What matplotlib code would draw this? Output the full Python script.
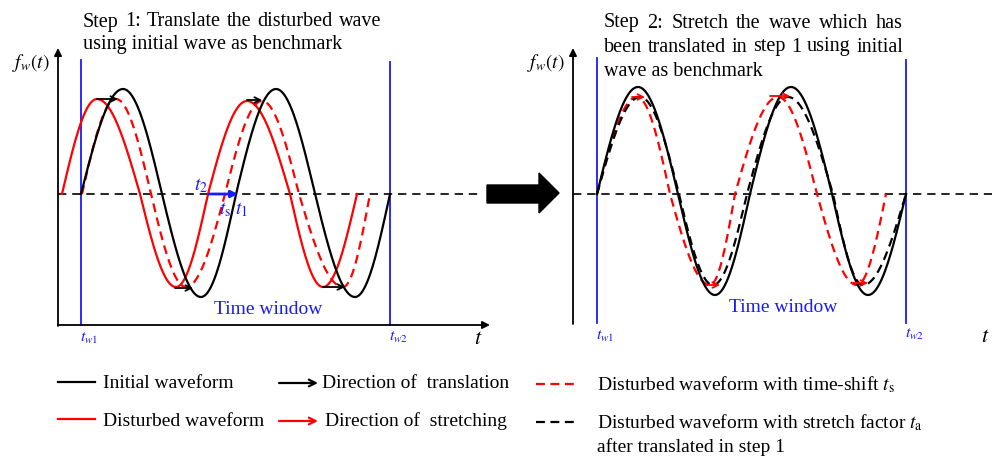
import numpy as np
import matplotlib
matplotlib.use("Agg")
import matplotlib.pyplot as plt
from matplotlib.patches import Polygon

plt.rcParams['font.family'] = ['Liberation Serif', 'DejaVu Serif']
plt.rcParams['mathtext.fontset'] = 'stix'

# ---------------- data: waveform key points (x position, amplitude) ----------------
# amplitude sequence: zero, peak, zero, trough, zero, peak, zero, trough, zero
# Panel 1 (translation)
p1_initial_x = [81, 123, 162, 201, 236, 276, 315, 355, 390]
p1_initial_a = [0, 105, 0, -103, 0, 105, 0, -103, 0]
p1_disturbed_x = [62, 97, 140, 176, 208, 247, 290, 323, 357]
p1_disturbed_a = [0, 95, 0, -93, 0, 93, 0, -93, 0]
p1_shifted_x = [82, 116, 151, 186, 225, 262, 299, 343, 370]
p1_shifted_a = [0, 95, 0, -93, 0, 93, 0, -93, 0]

# Panel 2 (stretching)
p2_initial_x = [597, 638, 678, 715, 750, 791, 832, 868, 906]
p2_initial_a = [0, 107, 0, -101, 0, 107, 0, -101, 0]
p2_shifted_x = [597, 637, 670, 710, 735, 778, 817, 857, 886]
p2_shifted_a = [0, 97, 0, -91, 0, 97, 0, -91, 0]
p2_stretched_x = [597, 640, 679, 713, 747, 788, 833, 863, 906]
p2_stretched_a = [0, 97, 0, -91, 0, 97, 0, -91, 0]

# direction arrows (x_start, x_end, amplitude)
p1_translation_arrows = [(97, 118, 95), (247, 262, 94), (175, 193, -94), (323, 345, -93)]
p2_stretch_arrows = [(632, 645, 97), (770, 790, 98), (707, 720, -91), (853, 868, -89)]

# text
step1_lines = ['Step 1: Translate the disturbed wave', 'using initial wave as benchmark']
step2_lines = ['Step 2: Stretch the wave which has', 'been translated in step 1 using initial',
               'wave as benchmark']
legend_labels = ['Initial waveform', 'Disturbed waveform', 'Direction of  translation',
                 'Direction of  stretching', r'Disturbed waveform with time-shift $t_\mathrm{s}$',
                 r'Disturbed waveform with stretch factor $t_\mathrm{a}$', 'after translated in step 1']

# layout constants (pixels)
W, H = 992, 457
ZERO1, ZERO2 = 194, 194
BLUE = '#1a1aff'
RED = '#ff0000'


def wave(xk, ak, n=60):
    xs, ys = [], []
    for i in range(len(xk) - 1):
        s = np.linspace(0, 1, n)
        x = xk[i] + (xk[i + 1] - xk[i]) * s
        if ak[i] == 0:
            y = ak[i + 1] * np.sin(np.pi / 2 * s)
        else:
            y = ak[i] * np.cos(np.pi / 2 * s)
        xs.append(x)
        ys.append(y)
    return np.concatenate(xs), np.concatenate(ys)


fig = plt.figure(figsize=(W / 100, H / 100), dpi=100)
ax = fig.add_axes([0, 0, 1, 1])
ax.set_xlim(0, W)
ax.set_ylim(H, 0)
ax.axis('off')
renderer = fig.canvas.get_renderer()


def arrow(x0, y0, x1, y1, color='black', lw=1.3, style='-|>', ms=12):
    ax.annotate('', xy=(x1, y1), xytext=(x0, y0),
                arrowprops=dict(arrowstyle=style, color=color, lw=lw,
                                mutation_scale=ms, shrinkA=0, shrinkB=0))


def justified(line, x0, x1, y, fs):
    words = line.split()
    widths = []
    for w in words:
        t = ax.text(0, 0, w, fontsize=fs)
        widths.append(t.get_window_extent(renderer).width)
        t.remove()
    gap = (x1 - x0 - sum(widths)) / (len(words) - 1)
    x = x0
    for w, wd in zip(words, widths):
        ax.text(x, y, w, fontsize=fs, va='center', ha='left')
        x += wd + gap


# ---------------- axes of both panels ----------------
arrow(58, 326, 58, 48, ms=11)
arrow(58, 325, 490, 325, ms=11)
arrow(573, 324, 573, 48, ms=11)
arrow(573, 323, 1000, 323, ms=11)

# zero dashed lines
ax.plot([58, 482], [ZERO1, ZERO1], color='black', lw=1.2, ls=(0, (5, 3.5)))
ax.plot([573, 992], [ZERO2, ZERO2], color='black', lw=1.2, ls=(0, (5, 3.5)))

# time window lines
ax.plot([81, 81], [60, 325], color=BLUE, lw=1.3)
ax.plot([390, 390], [62, 325], color=BLUE, lw=1.3)
ax.plot([597, 597], [58, 323], color=BLUE, lw=1.3)
ax.plot([906, 906], [60, 323], color=BLUE, lw=1.3)

# ---------------- panel 1 waves ----------------
x, a = wave(p1_disturbed_x, p1_disturbed_a)
ax.plot(x, ZERO1 - a, color=RED, lw=1.6)
x, a = wave(p1_shifted_x, p1_shifted_a)
ax.plot(x, ZERO1 - a, color=RED, lw=1.6, ls=(0, (4, 2.5)))
x, a = wave(p1_initial_x, p1_initial_a)
ax.plot(x, ZERO1 - a, color='black', lw=1.6)
for xs, xe, am in p1_translation_arrows:
    arrow(xs, ZERO1 - am, xe, ZERO1 - am, color='black', lw=1.3, style='->', ms=10)

# ts arrow
arrow(209, ZERO1, 238, ZERO1, color=BLUE, lw=2.0, style='-|>', ms=10)
ax.text(194, 186, r'$t_2$', color=BLUE, fontsize=14, ha='left', va='center')
ax.text(219, 210, r'$t_\mathrm{s}$', color=BLUE, fontsize=14, ha='left', va='center')
ax.text(235, 210, r'$t_1$', color=BLUE, fontsize=14, ha='left', va='center')

# ---------------- panel 2 waves ----------------
x, a = wave(p2_shifted_x, p2_shifted_a)
ax.plot(x, ZERO2 - a, color=RED, lw=1.6, ls=(0, (4, 2.5)))
x, a = wave(p2_stretched_x, p2_stretched_a)
ax.plot(x, ZERO2 - a, color='black', lw=1.6, ls=(0, (4, 2.5)))
x, a = wave(p2_initial_x, p2_initial_a)
ax.plot(x, ZERO2 - a, color='black', lw=1.6)
for xs, xe, am in p2_stretch_arrows:
    arrow(xs, ZERO2 - am, xe, ZERO2 - am, color=RED, lw=1.3, style='->', ms=10)

# big arrow between panels
ax.add_patch(Polygon([(487, 185), (539, 185), (539, 173), (559, 193),
                      (539, 213), (539, 203), (487, 203)],
                     closed=True, facecolor='black', edgecolor='black'))

# ---------------- texts ----------------
tfs = 14.5
justified(step1_lines[0], 83, 381, 22, tfs)
ax.text(83, 45, step1_lines[1], fontsize=tfs, va='center')
justified(step2_lines[0], 604, 903, 23, tfs)
justified(step2_lines[1], 604, 903, 47, tfs)
ax.text(604, 72, step2_lines[2], fontsize=tfs, va='center')

for xx, yy in [(12, 63), (527, 63)]:
    ax.text(xx, yy, r'$f_w(t)$', fontsize=14, va='center', ha='left')

ax.text(80, 338, r'$t_{w1}$', color=BLUE, fontsize=11.5, va='center')
ax.text(389, 337, r'$t_{w2}$', color=BLUE, fontsize=11.5, va='center')
ax.text(596, 336, r'$t_{w1}$', color=BLUE, fontsize=11.5, va='center')
ax.text(905, 334, r'$t_{w2}$', color=BLUE, fontsize=11.5, va='center')
ax.text(474, 340, r'$t$', fontsize=16, va='center')
ax.text(981, 338, r'$t$', fontsize=16, va='center')

ax.text(268, 310, 'Time window', color=BLUE, fontsize=14, ha='center', va='center')
ax.text(783, 307, 'Time window', color=BLUE, fontsize=14, ha='center', va='center')

# ---------------- legend ----------------
lfs = 14
ax.plot([58, 95], [382, 382], color='black', lw=1.6)
ax.text(103, 383, legend_labels[0], fontsize=lfs, va='center')
ax.plot([58, 95], [419, 419], color=RED, lw=1.6)
ax.text(103, 421, legend_labels[1], fontsize=lfs, va='center')

arrow(279, 383, 318, 383, color='black', lw=1.6, style='->', ms=12)
ax.text(322, 384, legend_labels[2], fontsize=lfs, va='center')
arrow(279, 421, 318, 421, color=RED, lw=1.6, style='->', ms=12)
ax.text(325, 421, legend_labels[3], fontsize=lfs, va='center')

ax.plot([536, 576], [384, 384], color=RED, lw=1.6, ls=(0, (4, 2.5)))
ax.text(597, 385, legend_labels[4], fontsize=lfs, va='center')
ax.plot([536, 576], [422, 422], color='black', lw=1.6, ls=(0, (4, 2.5)))
ax.text(597, 423, legend_labels[5], fontsize=lfs, va='center')
ax.text(597, 447, legend_labels[6], fontsize=lfs, va='center')

fig.savefig('out.png', dpi=100)
